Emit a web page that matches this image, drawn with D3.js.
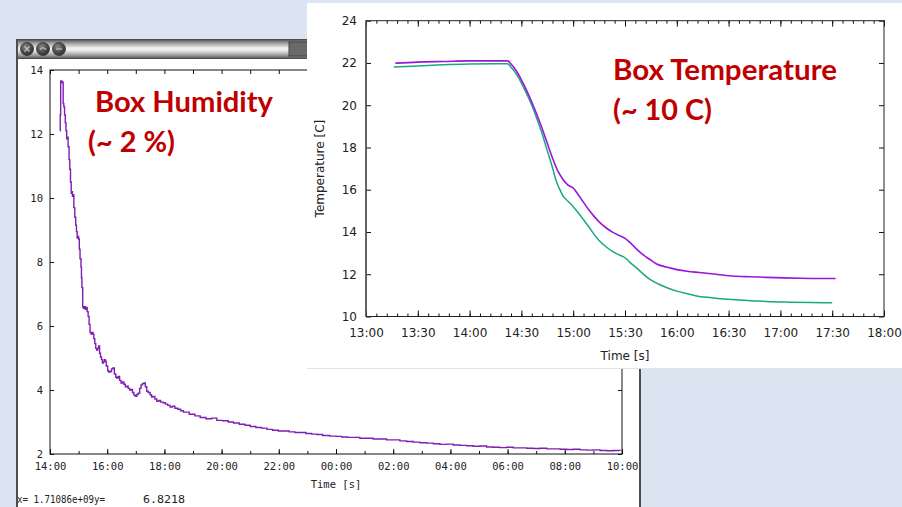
<!DOCTYPE html>
<html><head><meta charset="utf-8">
<script src="https://cdn.jsdelivr.net/npm/d3@7"></script>
<style>html,body{margin:0;padding:0;background:#dbe4f0;} svg{display:block;}</style>
</head><body><svg id="c" width="902" height="507"></svg>
<script>
// ---------------- DATA ----------------
// Humidity: [minutes after 14:00, relative humidity %]
const humidityPoints = [
 [21,12.1],[21.5,12.6],[22.4,13.66],[24,13.64],[25.5,13.6],[27,13.62],[27.6,12.95],[29,12.85],[30.5,12.6],[32,12.35],
 [33.5,12.1],[35,11.85],[36.5,11.9],[38,11.6],[40,11.2],[41.5,10.9],[43,10.5],[44.5,10.15],[46,10.2],[47,10.05],
 [48.5,10.1],[50,9.7],[52,9.4],[54,9.15],[55.5,8.95],[57,8.75],[58.5,8.8],[60,8.72],[61.5,8.4],[63,8.1],
 [65,7.84],[66,7.5],[67,7.2],[68.6,6.6],[70,6.55],[72,6.6],[74,6.52],[76,6.58],[78,6.45],[80,6.3],
 [82,6.05],[84,5.8],[86,5.75],[88,5.8],[90,5.74],[92,5.6],[94,5.45],[96,5.3],[98,5.25],[100,5.3],
 [102,5.38],[104,5.15],[106,5.03],[108,4.95],[110,4.84],[112,4.88],[114,4.95],[116,4.9],[118,4.75],[121,4.6],
 [123,4.56],[126,4.58],[129,4.66],[132,4.69],[135,4.5],[138,4.4],[140,4.37],[143,4.42],[146,4.3],[149,4.22],
 [152,4.25],[155,4.18],[158,4.1],[161,4.12],[164,4.05],[167,4.0],[170,4.02],[173,3.92],[176,3.84],[179,3.8],
 [182,3.86],[185,3.9],[188,4.05],[191,4.16],[194,4.2],[197,4.22],[200,4.1],[203,3.96],[206,3.92],[210,3.85],
 [213,3.78],[216,3.8],[220,3.72],[224,3.65],[228,3.67],[232,3.62],[237,3.6],[242,3.56],[247,3.52],[252,3.47],
 [257,3.49],[262,3.43],[268,3.4],[274,3.35],[280,3.31],[292,3.24],[304,3.19],[315,3.14],[327,3.1],[339,3.12],
 [350,3.05],[362,3.04],[374,3.0],[385,2.97],[397,2.93],[409,2.9],[420,2.86],[432,2.83],[444,2.81],[455,2.77],
 [467,2.74],[479,2.72],[490,2.72],[502,2.69],[514,2.67],[525,2.67],[537,2.64],[549,2.62],[560,2.61],[572,2.58],
 [587,2.56],[600,2.55],[612,2.53],[624,2.52],[636,2.52],[650,2.49],[664,2.49],[678,2.47],[692,2.47],[706,2.44],
 [720,2.44],[734,2.41],[748,2.39],[762,2.37],[776,2.35],[790,2.34],[804,2.32],[818,2.3],[832,2.31],[846,2.28],
 [860,2.27],[874,2.26],[888,2.24],[902,2.25],[916,2.22],[930,2.21],[944,2.2],[958,2.21],[972,2.19],[986,2.19],
 [1000,2.18],[1014,2.17],[1028,2.18],[1042,2.16],[1056,2.16],[1070,2.15],[1084,2.14],[1098,2.15],[1112,2.13],[1126,2.12],
 [1140,2.13],[1154,2.11],[1168,2.1],[1182,2.11],[1196,2.09]
];
const humYTicks = [2,4,6,8,10,12,14];
const humXLabel = "Time [s]";
const humStatusX = "x=  1.71086e+09y=";
const humStatusY = "6.8218";

// Temperature: [minutes after 13:00, °C]
const tempPurple = [
 [17,21.99],[30,22.04],[45,22.07],[60,22.1],[75,22.1],[82,22.1],[84,21.95],[86,21.75],[88,21.5],[90,21.2],
 [93,20.7],[96,20.15],[99,19.55],[102,18.9],[105,18.2],[108,17.5],[111,16.9],[114,16.5],[117,16.22],[120,16.08],
 [123,15.75],[126,15.4],[129,15.05],[132,14.75],[135,14.48],[139,14.2],[143,13.98],[147,13.82],[150,13.7],[153,13.5],
 [156,13.25],[160,12.95],[164,12.72],[168,12.5],[174,12.34],[180,12.22],[186,12.14],[193,12.08],[200,12.02],[212,11.92],
 [222,11.88],[232,11.85],[242,11.83],[252,11.81],[262,11.8],[272,11.8]
];
const tempGreen = [
 [16,21.81],[30,21.86],[45,21.92],[60,21.95],[75,21.96],[82,21.96],[84,21.8],[86,21.6],[88,21.35],[90,21.05],
 [93,20.55],[96,20.0],[99,19.35],[102,18.65],[105,17.85],[108,17.05],[110,16.45],[112,16.05],[114,15.72],[117,15.45],
 [120,15.2],[123,14.9],[126,14.58],[129,14.25],[132,13.9],[135,13.6],[139,13.3],[143,13.07],[147,12.9],[150,12.78],
 [153,12.55],[156,12.35],[160,12.05],[164,11.78],[169,11.55],[174,11.37],[180,11.2],[186,11.08],[193,10.95],[200,10.89],
 [212,10.8],[222,10.75],[232,10.71],[245,10.68],[258,10.66],[270,10.65]
];
const tempYTicks = [10,12,14,16,18,20,22,24];
const tempXLabel = "Time [s]";
const tempYLabel = "Temperature [C]";
const humTitle = ["Box Humidity", "(~ 2 %)"];
const tempTitle = ["Box Temperature", "(~ 10 C)"];

// ---------------- DRAW ----------------
const svg = d3.select("#c");
const defs = svg.append("defs");
const tb = defs.append("linearGradient").attr("id","tb").attr("x1",0).attr("y1",0).attr("x2",0).attr("y2",1);
[[0,"#5a5a5a"],[0.12,"#8c8c8c"],[0.45,"#f2f2f2"],[0.6,"#e6e6e6"],[0.85,"#9a9a9a"],[1,"#606060"]].forEach(([o,c])=>tb.append("stop").attr("offset",o).attr("stop-color",c));
const bt = defs.append("radialGradient").attr("id","bt").attr("cx","40%").attr("cy","35%").attr("r","70%");
[[0,"#8a8a8a"],[0.6,"#4a4a4a"],[1,"#2e2e2e"]].forEach(([o,c])=>bt.append("stop").attr("offset",o).attr("stop-color",c));

svg.append("rect").attr("width",902).attr("height",507).attr("fill","#dbe4f0");

// ---- humidity window ----
svg.append("rect").attr("x",16).attr("y",39).attr("width",625).attr("height",480).attr("fill","#4d4d4d");
svg.append("rect").attr("x",18).attr("y",40).attr("width",621).attr("height",18).attr("fill","url(#tb)");
svg.append("rect").attr("x",18).attr("y",59).attr("width",621).attr("height",460).attr("fill","#ffffff");
svg.append("rect").attr("x",289).attr("y",42).attr("width",20).attr("height",14).attr("fill","#6a6a6a").attr("stroke","#444");
[27,43,59].forEach((cx,i)=>{
  svg.append("circle").attr("cx",cx).attr("cy",49).attr("r",6.5).attr("fill","url(#bt)").attr("stroke","#333").attr("stroke-width",0.8);
  const g = svg.append("g").attr("stroke","#bdbdbd").attr("stroke-width",1.2).attr("fill","none");
  if(i===0){ g.append("path").attr("d",`M${cx-2.5},46.5L${cx+2.5},51.5M${cx+2.5},46.5L${cx-2.5},51.5`); }
  else if(i===1){ g.append("path").attr("d",`M${cx-3},49.5Q${cx},46 ${cx+3},49.5`); }
  else { g.append("path").attr("d",`M${cx-3},49L${cx+3},49`); }
});

const hM = {left:50, right:622, top:70, bottom:454};
const hBase = new Date(2024,2,21,14,0,0);
const hx = d3.scaleTime().domain([hBase, new Date(2024,2,22,10,0,0)]).range([hM.left,hM.right]);
const hy = d3.scaleLinear().domain([2,14]).range([hM.bottom,hM.top]);
const toDate = (b,m)=>new Date(b.getTime()+m*60000);
const monoFont = "'DejaVu Sans Mono', 'Liberation Mono', monospace";

const hg = svg.append("g");
const hAxB = d3.axisBottom(hx).ticks(d3.timeHour.every(2)).tickFormat(d3.timeFormat("%H:%M")).tickSize(-5).tickPadding(8.5);
const hAxBm = d3.axisBottom(hx).ticks(d3.timeHour.every(1)).tickFormat("").tickSize(-3);
const hAxTm = d3.axisTop(hx).ticks(d3.timeHour.every(1)).tickFormat("").tickSize(-4);
const hAxL = d3.axisLeft(hy).tickValues(humYTicks).tickFormat(d3.format("d")).tickSize(-4).tickPadding(7);
const hAxR = d3.axisRight(hy).tickValues(humYTicks).tickFormat("").tickSize(-4);
function styleAx(sel,font,size,col){ sel.select(".domain").remove(); sel.selectAll("line").attr("stroke","#111"); sel.selectAll("text").attr("font-family",font).attr("font-size",size).attr("fill",col); }
hg.append("g").attr("transform",`translate(0,${hM.bottom})`).call(hAxBm).call(s=>styleAx(s,monoFont,10.5,"#222"));
hg.append("g").attr("transform",`translate(0,${hM.bottom})`).call(hAxB).call(s=>styleAx(s,monoFont,10.5,"#222"));
hg.append("g").attr("transform",`translate(0,${hM.top})`).call(hAxTm).call(s=>styleAx(s,monoFont,10.5,"#222"));
hg.append("g").attr("transform",`translate(${hM.left},0)`).call(hAxL).call(s=>styleAx(s,monoFont,10.5,"#222"));
hg.append("g").attr("transform",`translate(${hM.right},0)`).call(hAxR).call(s=>styleAx(s,monoFont,10.5,"#222"));
hg.append("rect").attr("x",hM.left).attr("y",hM.top).attr("width",hM.right-hM.left).attr("height",hM.bottom-hM.top).attr("fill","none").attr("stroke","#111").attr("stroke-width",1);
const hLine = d3.line().x(d=>hx(toDate(hBase,d[0]))).y(d=>hy(d[1])).curve(d3.curveStepAfter);
hg.append("path").datum(humidityPoints).attr("d",hLine).attr("fill","none").attr("stroke","#7e1fb4").attr("stroke-width",1.4);
hg.append("text").attr("x",(hM.left+hM.right)/2).attr("y",488).attr("text-anchor","middle").attr("font-family",monoFont).attr("font-size",10.5).attr("fill","#222").text(humXLabel);
hg.append("text").attr("x",17).attr("y",503).attr("font-family",monoFont).attr("font-size",11).attr("fill","#222").attr("textLength",88).attr("lengthAdjust","spacingAndGlyphs").text(humStatusX);
hg.append("text").attr("x",143).attr("y",503).attr("font-family",monoFont).attr("font-size",11).attr("fill","#222").attr("textLength",42).attr("lengthAdjust","spacingAndGlyphs").text(humStatusY);

// ---- temperature panel ----
svg.append("rect").attr("x",307).attr("y",3).attr("width",595).attr("height",365).attr("fill","#ffffff");
svg.append("line").attr("x1",307).attr("x2",902).attr("y1",368.5).attr("y2",368.5).attr("stroke","#e4e4e4");
const tM = {left:366, right:884, top:20.7, bottom:316.5};
const tBase = new Date(2024,2,21,13,0,0);
const tx = d3.scaleTime().domain([tBase, new Date(2024,2,21,18,0,0)]).range([tM.left,tM.right]);
const ty = d3.scaleLinear().domain([10,24]).range([tM.bottom,tM.top]);
const sansFont = "'DejaVu Sans', Verdana, sans-serif";
const tg = svg.append("g");
const tAxB = d3.axisBottom(tx).ticks(d3.timeMinute.every(30)).tickFormat(d3.timeFormat("%H:%M")).tickSize(-6).tickPadding(11.5);
const tAxBm = d3.axisBottom(tx).ticks(d3.timeMinute.every(6)).tickFormat("").tickSize(-3);
const tAxT = d3.axisTop(tx).ticks(d3.timeMinute.every(30)).tickFormat("").tickSize(-6);
const tAxTm = d3.axisTop(tx).ticks(d3.timeMinute.every(6)).tickFormat("").tickSize(-3);
const tAxL = d3.axisLeft(ty).tickValues(tempYTicks).tickFormat(d3.format("d")).tickSize(-5).tickPadding(9);
const tAxR = d3.axisRight(ty).tickValues(tempYTicks).tickFormat("").tickSize(-5);
tg.append("g").attr("transform",`translate(0,${tM.bottom})`).call(tAxBm).call(s=>styleAx(s,sansFont,12,"#222"));
tg.append("g").attr("transform",`translate(0,${tM.bottom})`).call(tAxB).call(s=>styleAx(s,sansFont,12,"#222"));
tg.append("g").attr("transform",`translate(0,${tM.top})`).call(tAxTm).call(s=>styleAx(s,sansFont,12,"#222"));
tg.append("g").attr("transform",`translate(0,${tM.top})`).call(tAxT).call(s=>styleAx(s,sansFont,12,"#222"));
tg.append("g").attr("transform",`translate(${tM.left},0)`).call(tAxL).call(s=>styleAx(s,sansFont,12,"#222"));
tg.append("g").attr("transform",`translate(${tM.right},0)`).call(tAxR).call(s=>styleAx(s,sansFont,12,"#222"));
tg.append("rect").attr("x",tM.left).attr("y",tM.top).attr("width",tM.right-tM.left).attr("height",tM.bottom-tM.top).attr("fill","none").attr("stroke","#222").attr("stroke-width",1);
tg.append("line").attr("x1",tM.left).attr("x2",tM.left).attr("y1",tM.top).attr("y2",tM.bottom).attr("stroke","#555").attr("stroke-width",1.5);
const tLine = d3.line().x(d=>tx(toDate(tBase,d[0]))).y(d=>ty(d[1])).curve(d3.curveMonotoneX);
tg.append("path").datum(tempGreen).attr("d",tLine).attr("fill","none").attr("stroke","#1aa784").attr("stroke-width",1.5);
tg.append("path").datum(tempPurple).attr("d",tLine).attr("fill","none").attr("stroke","#9a16d8").attr("stroke-width",1.6);
tg.append("text").attr("x",(tM.left+tM.right)/2).attr("y",360).attr("text-anchor","middle").attr("font-family",sansFont).attr("font-size",12).attr("fill","#222").text(tempXLabel);
tg.append("text").attr("transform",`translate(324,${(tM.top+tM.bottom)/2}) rotate(-90)`).attr("text-anchor","middle").attr("font-family",sansFont).attr("font-size",12).attr("fill","#222").text(tempYLabel);

// ---- red annotations ----
const redFont = "Lato, 'Open Sans', sans-serif";
function red(x,y,w,t){ svg.append("text").attr("x",x).attr("y",y).attr("font-family",redFont).attr("font-weight",700).attr("font-size",28).attr("fill","#c00000").attr("textLength",w).attr("lengthAdjust","spacingAndGlyphs").text(t); }
red(95,112,178,humTitle[0]);
red(88,152,87,humTitle[1]);
red(613,80,224,tempTitle[0]);
red(613,120,99,tempTitle[1]);
</script></body></html>
